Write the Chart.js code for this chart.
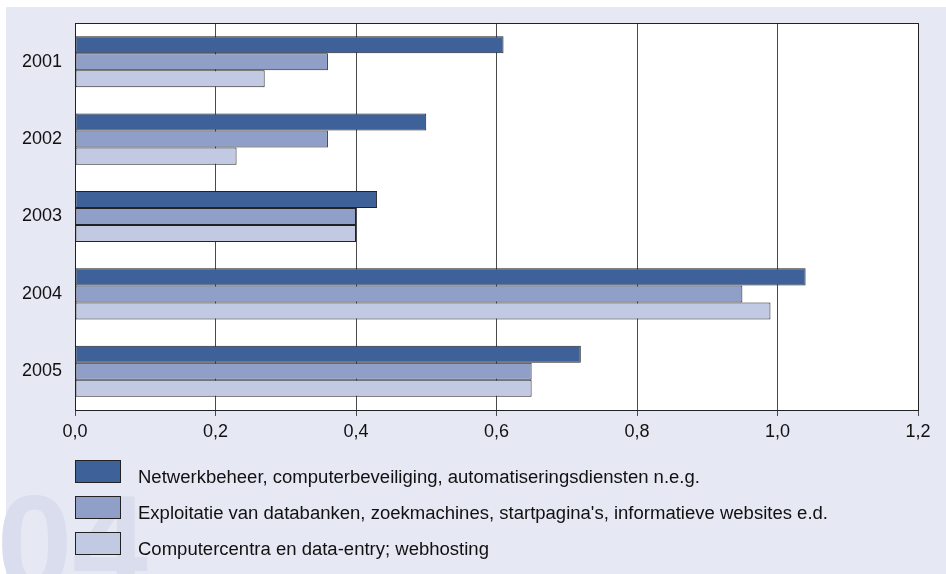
<!DOCTYPE html>
<html>
<head>
<meta charset="utf-8">
<script src="https://cdn.jsdelivr.net/npm/chart.js@4/dist/chart.umd.min.js"></script>
<style>
html,body{margin:0;padding:0;background:#fff;}
canvas{display:block;}
</style>
</head>
<body>
<canvas id="c" width="946" height="574"></canvas>
<script>
const years = ['2001', '2002', '2003', '2004', '2005'];
const seriesNames = [
  'Netwerkbeheer, computerbeveiliging, automatiseringsdiensten n.e.g.',
  "Exploitatie van databanken, zoekmachines, startpagina's, informatieve websites e.d.",
  'Computercentra en data-entry; webhosting'
];
const netwerk = [0.61, 0.50, 0.43, 1.04, 0.72];
const exploitatie = [0.36, 0.36, 0.40, 0.95, 0.65];
const computercentra = [0.27, 0.23, 0.40, 0.99, 0.65];
const xTickValues = [0, 0.2, 0.4, 0.6, 0.8, 1.0, 1.2];
const seriesColors = ['#3f619a', '#8f9fc8', '#c2c9e2'];

const FONT = '"Liberation Sans", Arial, Helvetica, sans-serif';

const decor = {
  id: 'decor',
  beforeDraw(chart) {
    const ctx = chart.ctx;
    const a = chart.chartArea;
    ctx.save();
    ctx.fillStyle = '#ffffff';
    ctx.fillRect(0, 0, chart.width, chart.height);
    ctx.fillStyle = '#e6e8f4';
    ctx.fillRect(6, 7, chart.width - 6, chart.height - 7);
    // faint watermark
    ctx.fillStyle = '#dadded';
    ctx.font = 'bold 136px ' + FONT;
    ctx.textAlign = 'right';
    ctx.textBaseline = 'alphabetic';
    ctx.fillText('04', 148, 590);
    ctx.fillStyle = '#ffffff';
    ctx.fillRect(a.left, a.top, a.right - a.left, a.bottom - a.top);
    ctx.restore();
  },
  afterDraw(chart) {
    const ctx = chart.ctx;
    const a = chart.chartArea;
    ctx.save();
    ctx.strokeStyle = '#222';
    ctx.lineWidth = 1;
    ctx.beginPath();
    ctx.moveTo(a.left, a.top + 0.5);
    ctx.lineTo(a.right + 0.5, a.top + 0.5);
    ctx.lineTo(a.right + 0.5, a.bottom);
    ctx.stroke();
    // legend
    ctx.font = '18px ' + FONT;
    ctx.textBaseline = 'alphabetic';
    ctx.textAlign = 'left';
    const w1 = ctx.measureText(chart.data.datasets[1].label).width;
    const stretch = 690 / w1;
    chart.data.datasets.forEach((ds, i) => {
      const y = 460 + 36 * i;
      ctx.fillStyle = ds.backgroundColor;
      ctx.fillRect(75, y, 46, 23);
      ctx.strokeStyle = '#222';
      ctx.strokeRect(75.5, y + 0.5, 45, 22);
      ctx.save();
      ctx.translate(138, y + 23);
      ctx.scale(stretch, 1);
      ctx.fillStyle = '#111';
      ctx.fillText(ds.label, 0, 0);
      ctx.restore();
    });
    ctx.restore();
  }
};

const makeDs = (i, data) => ({
  label: seriesNames[i],
  data: data,
  backgroundColor: seriesColors[i],
  borderColor: '#222',
  borderWidth: 1,
  borderSkipped: false,
  categoryPercentage: 0.66,
  barPercentage: 1.0
});

new Chart(document.getElementById('c'), {
  type: 'bar',
  data: {
    labels: years,
    datasets: [makeDs(0, netwerk), makeDs(1, exploitatie), makeDs(2, computercentra)]
  },
  plugins: [decor],
  options: {
    indexAxis: 'y',
    responsive: false,
    animation: false,
    devicePixelRatio: 1,
    layout: { padding: { left: 0, right: 28, top: 23, bottom: 0 } },
    plugins: { legend: { display: false }, tooltip: { enabled: false }, title: { display: false } },
    scales: {
      y: {
        type: 'category',
        grid: { display: false },
        border: { display: true, color: '#222', width: 1 },
        ticks: { color: '#111', font: { family: FONT, size: 18 }, padding: 5 },
        afterFit(s) { s.width = 75; }
      },
      x: {
        position: 'bottom',
        min: 0,
        max: 1.2,
        afterBuildTicks(s) { s.ticks = xTickValues.map(v => ({ value: v })); },
        ticks: {
          color: '#111',
          font: { family: FONT, size: 18 },
          padding: 5,
          maxRotation: 0,
          callback: v => Number(v).toFixed(1).replace('.', ',')
        },
        grid: { color: '#4a4a4a', lineWidth: 1, tickLength: 6, drawTicks: true },
        border: { display: true, color: '#222', width: 1 },
        afterFit(s) { s.height = 164; }
      }
    }
  }
});
</script>
</body>
</html>
